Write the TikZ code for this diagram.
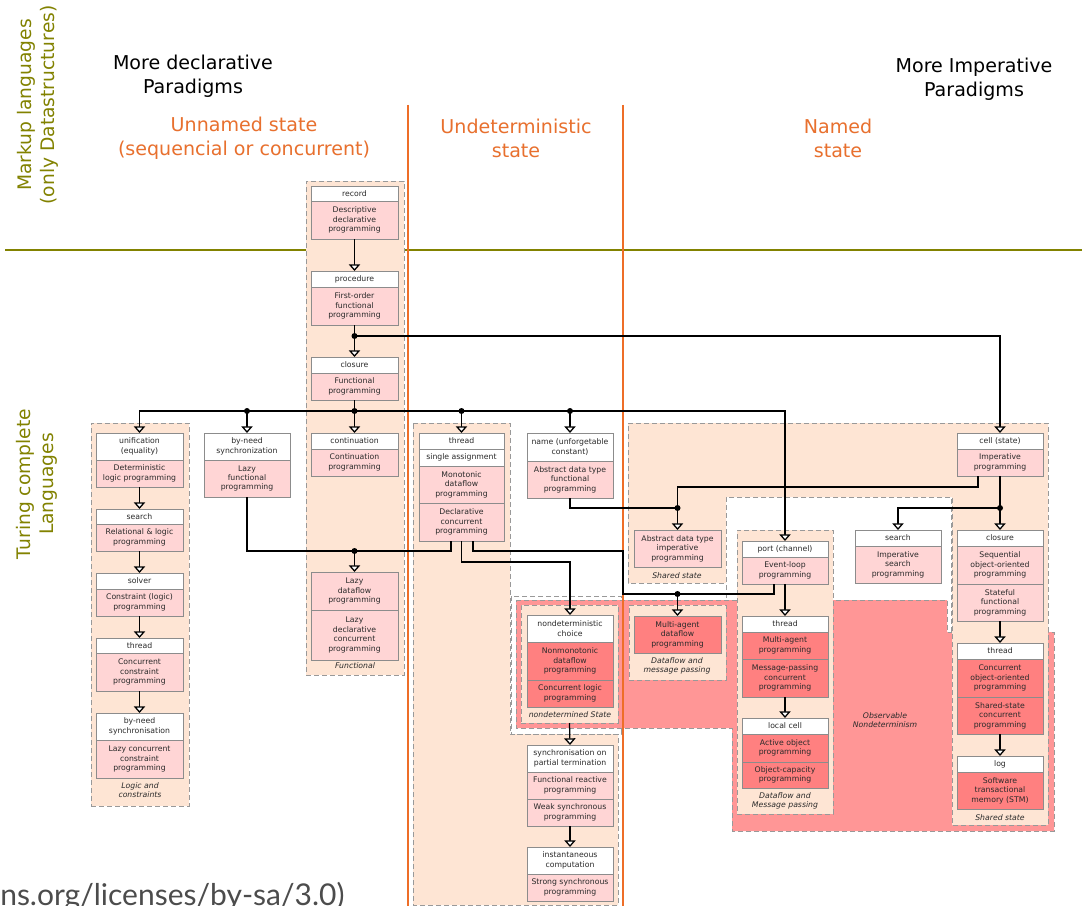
\documentclass[tikz,border=0pt]{standalone}
\usepackage{fontspec}
\setmainfont{DejaVu Sans}
\newfontfamily\latofont{Lato}
\usetikzlibrary{arrows.meta,calc}
\definecolor{peach}{HTML}{FEE5D4}
\definecolor{pinkb}{HTML}{FFD5D5}
\definecolor{redb}{HTML}{FF8080}
\definecolor{redreg}{HTML}{FF9696}
\definecolor{bord}{HTML}{8C8C8C}
\definecolor{dashc}{HTML}{999999}
\definecolor{orangeL}{HTML}{EE6E28}
\definecolor{orangeT}{HTML}{E8702E}
\definecolor{oliveL}{HTML}{828200}
\definecolor{txt}{HTML}{2A2A2A}
\newcommand\bx[7]{\node[#6, minimum width={(#4-#2)*0.75pt}, minimum height={(#5-#3)*0.75pt}] (#1) at ({(#2+#4)/2},{(#3+#5)/2}) {#7};}
\tikzset{
  box/.style={draw=bord, line width=0.6pt, inner sep=0pt, outer sep=0pt, align=center, font=\fontsize{5.8}{7.1}\selectfont, text=txt},
  hd/.style={box, fill=white},
  pb/.style={box, fill=pinkb},
  rb/.style={box, fill=redb},
  grp/.style={draw=dashc, line width=0.75pt, dash pattern=on 3.5pt off 2.5pt, fill=peach, inner sep=0pt, outer sep=0pt},
  wreg/.style={draw=dashc, line width=0.75pt, dash pattern=on 3.5pt off 2.5pt, fill=white},
  rreg/.style={draw=dashc, line width=0.75pt, dash pattern=on 3.5pt off 2.5pt, fill=redreg},
  preg/.style={draw=dashc, line width=0.75pt, dash pattern=on 3.5pt off 2.5pt, fill=peach},
  lbl/.style={font=\fontsize{5.8}{7.1}\selectfont\itshape, text=txt, align=center, inner sep=0pt},
  ln/.style={draw=black, line width=0.95pt},
  arr/.style={ln, -{Triangle[width=8.5pt,length=5pt,fill=white]}},
  dot/.style={circle, fill=black, inner sep=0pt, minimum size=4.5pt},
  bighd/.style={font=\fontsize{14.3}{18}\selectfont, align=center, inner sep=0pt},
  vtxt/.style={font=\fontsize{14}{17.3}\selectfont, align=center, inner sep=0pt, text=oliveL, rotate=90}
}
\begin{document}
\begin{tikzpicture}[x=0.75pt,y=-0.75pt]
\clip (0,0) rectangle (1082,906);
\fill[white] (0,0) rectangle (1082,906);

% ---------- background regions ----------
\draw[preg] (413,423) -- (510,423) -- (510,734) -- (618,734) -- (618,905) -- (413,905) -- cycle;
\draw[wreg] (511,596) rectangle (621,734);
\draw[wreg] (726,497) rectangle (951,632);
\draw[rreg] (516,600) -- (947,600) -- (947,632) -- (1054,632) -- (1054,831) -- (732,831) -- (732,728) -- (516,728) -- cycle;
\draw[preg] (628,423) -- (1048,423) -- (1048,825) -- (952,825) -- (952,497) -- (726,497) -- (726,583) -- (628,583) -- cycle;

% ---------- headers ----------
\node[bighd] (decl) at (193,76) {More declarative\\Paradigms};
\node[bighd] (imper) at (974,79) {More Imperative\\Paradigms};
\node[bighd, text=orangeT] (unn) at (244,138.5) {Unnamed state\\(sequencial or concurrent)};
\node[bighd, text=orangeT] (undet) at (516,138) {Undeterministic\\state};
\node[bighd, text=orangeT] (named) at (838,138) {Named\\state};
\node[vtxt] (markup) at (38,105) {Markup languages\\(only Datastructures)};
\node[vtxt] (turing) at (37,484) {Turing complete\\Languages};
\node[anchor=base west, inner sep=0pt, font=\latofont\fontsize{22.5}{24}\selectfont, text=black!70] (lic) at (0,905) {ns.org/licenses/by-sa/3.0)};

% ---------- divider lines ----------
\draw[oliveL, line width=1.5pt] (5,250) -- (1082,250);
\draw[orangeL, line width=1.5pt] (408,105) -- (408,906);
\draw[orangeL, line width=1.5pt] (623,105) -- (623,906);

% ---------- groups ----------
\bx{gFun}{306}{181}{404}{675}{grp}{}
\bx{gLog}{91}{423}{189}{806}{grp}{}
\bx{gNd}{521}{605}{618}{723}{grp}{}
\bx{gMa}{629}{605}{726}{680}{grp}{}
\bx{gPt}{737}{530}{833}{814}{grp}{}

% ---------- functional column ----------
\bx{recH}{311}{186}{398}{201}{hd}{record}
\bx{recB}{311}{201}{398}{239}{pb}{Descriptive\\declarative\\programming}
\bx{procH}{311}{271}{398}{287}{hd}{procedure}
\bx{procB}{311}{287}{398}{325}{pb}{First-order\\functional\\programming}
\bx{cloH}{311}{357}{398}{373}{hd}{closure}
\bx{cloB}{311}{373}{398}{400}{pb}{Functional\\programming}
\bx{contH}{311}{433}{398}{449}{hd}{continuation}
\bx{contB}{311}{449}{398}{476}{pb}{Continuation\\programming}
\bx{ldfB}{311}{572}{398}{610}{pb}{Lazy\\dataflow\\programming}
\bx{ldcB}{311}{610}{398}{660}{pb}{Lazy\\declarative\\concurrent\\programming}
\node[lbl] (lFun) at (355,666) {Functional};

% ---------- logic column ----------
\bx{unifH}{96}{433}{183}{460}{hd}{unification\\(equality)}
\bx{unifB}{96}{460}{183}{487}{pb}{Deterministic\\logic programming}
\bx{srchH}{96}{509}{183}{524}{hd}{search}
\bx{srchB}{96}{524}{183}{551}{pb}{Relational \& logic\\programming}
\bx{solvH}{96}{573}{183}{589}{hd}{solver}
\bx{solvB}{96}{589}{183}{616}{pb}{Constraint (logic)\\programming}
\bx{lthH}{96}{638}{183}{653}{hd}{thread}
\bx{lthB}{96}{653}{183}{691}{pb}{Concurrent\\constraint\\programming}
\bx{lbnH}{96}{713}{183}{740}{hd}{by-need\\synchronisation}
\bx{lbnB}{96}{740}{183}{778}{pb}{Lazy concurrent\\constraint\\programming}
\node[lbl] (lLog) at (140,790) {Logic and\\constraints};

\bx{bnH}{204}{433}{290}{460}{hd}{by-need\\synchronization}
\bx{bnB}{204}{460}{290}{497}{pb}{Lazy\\functional\\programming}

% ---------- undeterministic column ----------
\bx{thrH}{419}{433}{504}{449}{hd}{thread}
\bx{saH}{419}{449}{504}{466}{hd}{single assignment}
\bx{thrB1}{419}{466}{504}{503}{pb}{Monotonic\\dataflow\\programming}
\bx{thrB2}{419}{503}{504}{541}{pb}{Declarative\\concurrent\\programming}

\bx{nameH}{527}{433}{613}{461}{hd}{name (unforgetable\\constant)}
\bx{nameB}{527}{461}{613}{498}{pb}{Abstract data type\\functional\\programming}

\bx{ndH}{527}{615}{613}{642}{hd}{nondeterministic\\choice}
\bx{ndB1}{527}{642}{613}{680}{rb}{Nonmonotonic\\dataflow\\programming}
\bx{ndB2}{527}{680}{613}{707}{rb}{Concurrent logic\\programming}
\node[lbl] (lNd) at (570,715) {nondetermined State};

\bx{syH}{527}{745}{613}{772}{hd}{synchronisation on\\partial termination}
\bx{syB1}{527}{772}{613}{799}{pb}{Functional reactive\\programming}
\bx{syB2}{527}{799}{613}{826}{pb}{Weak synchronous\\programming}
\bx{inH}{527}{847}{613}{874}{hd}{instantaneous\\computation}
\bx{inB}{527}{874}{613}{901}{pb}{Strong synchronous\\programming}

% ---------- named state ----------
\bx{adtB}{634}{530}{721}{567}{pb}{Abstract data type\\imperative\\programming}
\node[lbl] (lSh1) at (677,576) {Shared state};

\bx{maB}{634}{616}{721}{653}{rb}{Multi-agent\\dataflow\\programming}
\node[lbl] (lMa) at (677,666) {Dataflow and\\message passing};

\bx{ptH}{742}{541}{828}{557}{hd}{port (channel)}
\bx{ptB}{742}{557}{828}{584}{pb}{Event-loop\\programming}
\bx{pthH}{742}{616}{828}{632}{hd}{thread}
\bx{pthB1}{742}{632}{828}{659}{rb}{Multi-agent\\programming}
\bx{pthB2}{742}{659}{828}{697}{rb}{Message-passing\\concurrent\\programming}
\bx{lcH}{742}{718}{828}{734}{hd}{local cell}
\bx{lcB1}{742}{734}{828}{762}{rb}{Active object\\programming}
\bx{lcB2}{742}{762}{828}{788}{rb}{Object-capacity\\programming}
\node[lbl] (lPt) at (785,801) {Dataflow and\\Message passing};

\bx{isH}{855}{530}{941}{546}{hd}{search}
\bx{isB}{855}{546}{941}{583}{pb}{Imperative\\search\\programming}

\bx{cellH}{957}{433}{1043}{449}{hd}{cell (state)}
\bx{cellB}{957}{449}{1043}{476}{pb}{Imperative\\programming}
\bx{rcH}{957}{530}{1043}{546}{hd}{closure}
\bx{rcB1}{957}{546}{1043}{584}{pb}{Sequential\\object-oriented\\programming}
\bx{rcB2}{957}{584}{1043}{621}{pb}{Stateful\\functional\\programming}
\bx{rtH}{957}{643}{1043}{659}{hd}{thread}
\bx{rtB1}{957}{659}{1043}{697}{rb}{Concurrent\\object-oriented\\programming}
\bx{rtB2}{957}{697}{1043}{734}{rb}{Shared-state\\concurrent\\programming}
\bx{logH}{957}{756}{1043}{772}{hd}{log}
\bx{logB}{957}{772}{1043}{809}{rb}{Software\\transactional\\memory (STM)}
\node[lbl] (lSh2) at (1000,818) {Shared state};

\node[lbl] (lObs) at (885,720) {Observable\\Nondeterminism};

% ---------- connectors ----------
\draw[arr] (recB.south) -- (procH.north);
\node[dot] (j1) at (354.5,336) {};
\draw[ln] (procB.south) -- (j1.center);
\draw[arr] (j1.center) -- (cloH.north);
\draw[arr] (j1.center) -| (cellH.north);

\node[dot] (j2) at (354.5,411) {};
\draw[ln] (cloB.south) -- (j2.center);
\draw[arr] (j2.center) -- (contH.north);
\draw[arr] (j2.center) -| (unifH.north);
\draw[arr] (j2.center) -| (ptH.north);
\node[dot] (j2a) at (bnH.north |- j2.center) {};
\draw[arr] (j2a.center) -- (bnH.north);
\node[dot] (j2b) at (thrH.north |- j2.center) {};
\draw[arr] (j2b.center) -- (thrH.north);
\node[dot] (j2c) at (nameH.north |- j2.center) {};
\draw[arr] (j2c.center) -- (nameH.north);

\draw[arr] (unifB.south) -- (srchH.north);
\draw[arr] (srchB.south) -- (solvH.north);
\draw[arr] (solvB.south) -- (lthH.north);
\draw[arr] (lthB.south) -- (lbnH.north);

\node[dot] (j3) at (354.5,551) {};
\draw[ln] (bnB.south) |- (j3.center);
\draw[ln] ($(thrB2.south)+(-10.5,0)$) |- (j3.center);
\draw[arr] (j3.center) -- (ldfB.north);

\draw[arr] (thrB2.south) -- ++(0,21) -| (ndH.north);

\node[dot] (j4) at (677.5,594) {};
\draw[ln] ($(thrB2.south)+(11.5,0)$) -- ++(0,10) -- ++(150,0) |- (j4.center);
\draw[ln] ($(ptB.south)+(-11,0)$) |- (j4.center);
\draw[arr] (j4.center) -- (maB.north);

\node[dot] (j5) at (677.5,508) {};
\draw[ln] (nameB.south) |- (j5.center);
\draw[ln] ($(cellB.south)+(-22,0)$) -- ++(0,11) -| (j5.center);
\draw[arr] (j5.center) -- (adtB.north);

\node[dot] (j6) at (1000,508) {};
\draw[ln] (cellB.south) -- (j6.center);
\draw[arr] (j6.center) -- (rcH.north);
\draw[arr] (j6.center) -| (isH.north);
\draw[arr] (rcB2.south) -- (rtH.north);
\draw[arr] (rtB2.south) -- (logH.north);

\draw[arr] (ptB.south) -- (pthH.north);
\draw[arr] (pthB2.south) -- (lcH.north);

\draw[arr] (gNd.south) -- (syH.north);
\draw[arr] (syB2.south) -- (inH.north);
\end{tikzpicture}
\end{document}
